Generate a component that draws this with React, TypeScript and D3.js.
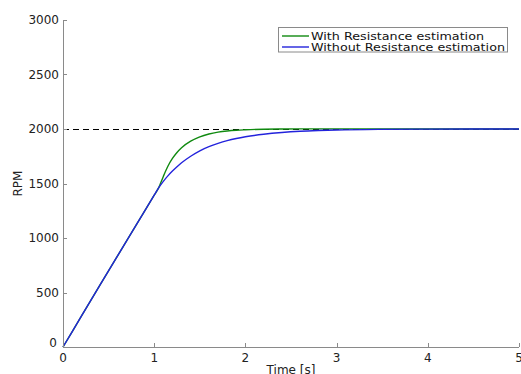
import React from "react";
import * as d3 from "d3";

const timeS = [0, 0.2, 0.4, 0.6, 0.8, 1.0, 1.05, 1.1, 1.15, 1.2, 1.25, 1.3, 1.4, 1.5, 1.6, 1.7, 1.8, 1.9, 2.0, 2.2, 2.4, 2.6, 2.8, 3.0, 3.5, 4.0, 4.5, 5.0];
const withEst = [0, 280, 560, 838, 1115, 1393, 1462, 1565, 1658, 1730, 1785, 1828, 1888, 1928, 1954, 1971, 1982, 1989, 1993, 1998, 2000, 2001, 2001, 2001, 2001, 2000, 2000, 2000];
const withoutEst = [0, 280, 560, 838, 1115, 1393, 1462, 1520, 1570, 1614, 1654, 1690, 1750, 1800, 1838, 1868, 1893, 1913, 1929, 1952, 1968, 1979, 1986, 1991, 1997, 1999, 2000, 2000];
const referenceRpm = 2000;
const xTicks = [0, 1, 2, 3, 4, 5];
const yTicks = [0, 500, 1000, 1500, 2000, 2500, 3000];
const seriesNames = ["With Resistance estimation", "Without Resistance estimation"];
const seriesColors = ["#108a10", "#2323dc"];
const legendTextWidths = [173, 194];

export default function App() {
  const W = 521, H = 374;
  const m = { left: 63, right: 2, top: 20, bottom: 27 };
  const x = d3.scaleLinear().domain([0, 5]).range([m.left, W - m.right]);
  const y = d3.scaleLinear().domain([0, 3000]).range([H - m.bottom, m.top]);
  const line = d3
    .line<number>()
    .x((_, i) => x(timeS[i]))
    .y((d) => y(d))
    .curve(d3.curveMonotoneX);
  const font = "DejaVu Sans, Arial, sans-serif";
  const axisColor = "#8a8a8a";
  const series = [withEst, withoutEst];
  const refY = Math.round(y(referenceRpm)) + 0.5;
  return (
    <svg width={W} height={H} style={{ position: "absolute", left: 0, top: 0, background: "#fff" }} fontFamily={font}>
      <rect width={W} height={H} fill="#fff" />
      {/* reference dashed line */}
      <line x1={x(0)} x2={x(5)} y1={refY} y2={refY} stroke="#000" strokeWidth={1} strokeDasharray="6,4" />
      {/* series */}
      {series.map((s, i) => (
        <path key={i} d={line(s) || ""} fill="none" stroke={seriesColors[i]} strokeWidth={1.4} />
      ))}
      {/* axes */}
      <line x1={x(0)} x2={x(5)} y1={y(0) + 0.5} y2={y(0) + 0.5} stroke={axisColor} strokeWidth={1} />
      <line x1={x(0) + 0.5} x2={x(0) + 0.5} y1={y(0)} y2={y(3000)} stroke={axisColor} strokeWidth={1} />
      {xTicks.map((t) => (
        <g key={"x" + t}>
          <line x1={Math.round(x(t)) + 0.5} x2={Math.round(x(t)) + 0.5} y1={y(0)} y2={y(0) - 4} stroke={axisColor} />
          <text x={x(t)} y={y(0) + 15} textAnchor="middle" fontSize={12} fill="#222">
            {t}
          </text>
        </g>
      ))}
      {yTicks.map((t) => (
        <g key={"y" + t}>
          <line x1={x(0)} x2={x(0) + 4} y1={Math.round(y(t)) + 0.5} y2={Math.round(y(t)) + 0.5} stroke={axisColor} />
          <text x={x(0) - (t === 0 ? 6 : 4)} y={y(t) + (t === 0 ? 0 : 4)} textAnchor="end" fontSize={12} fill="#222">
            {t}
          </text>
        </g>
      ))}
      <text x={(x(0) + x(5)) / 2} y={H - 0.5} textAnchor="middle" fontSize={12} fill="#222">
        Time [s]
      </text>
      <text transform={`translate(22,${(y(0) + y(3000)) / 2}) rotate(-90)`} textAnchor="middle" fontSize={12} fill="#222">
        RPM
      </text>
      {/* legend */}
      <g>
        <rect x={278.5} y={27.5} width={229} height={24.5} fill="#fff" stroke={axisColor} strokeWidth={1} />
        {seriesNames.map((n, i) => (
          <g key={n}>
            <line x1={282} x2={309} y1={36 + i * 11} y2={36 + i * 11} stroke={seriesColors[i]} strokeWidth={1.4} />
            <text x={311} y={40 + i * 10.8} fontSize={10.5} fill="#111" textLength={legendTextWidths[i]} lengthAdjust="spacingAndGlyphs">
              {n}
            </text>
          </g>
        ))}
      </g>
    </svg>
  );
}
